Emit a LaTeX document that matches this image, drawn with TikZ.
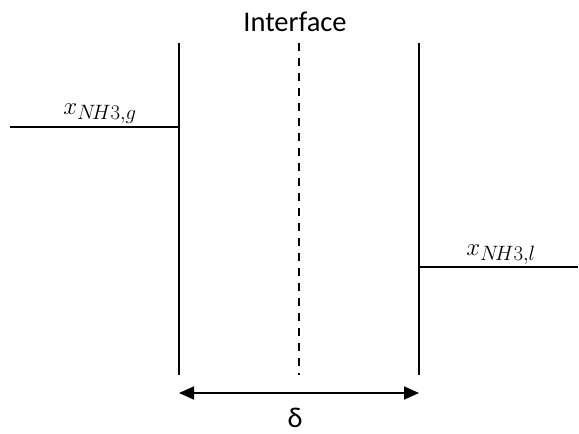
\documentclass[tikz,border=0pt]{standalone}
\usepackage{fontspec}
\setmainfont{Carlito}
\usetikzlibrary{arrows.meta}
\tikzset{
  wall/.style={line width=1.7pt, black},
  iface/.style={line width=1.7pt, black, dash pattern=on 8pt off 7pt},
  conc/.style={line width=1.7pt, black},
  dimarrow/.style={line width=1.7pt, black, {Triangle[length=15pt,width=13pt]}-{Triangle[length=15pt,width=13pt]}},
  lbl/.style={inner sep=0pt, font=\fontsize{28.5}{30}\selectfont},
  mlbl/.style={inner sep=0pt, font=\fontsize{31}{34}\selectfont}
}
\begin{document}
\begin{tikzpicture}[x=1pt,y=-1pt]
\useasboundingbox (0,0) rectangle (579,434);
% wall ends
\coordinate (lt) at (179,43);
\coordinate (lb) at (179,375);
\coordinate (it) at (299,43);
\coordinate (ib) at (299,375);
\coordinate (rt) at (419,43);
\coordinate (rb) at (419,375);
% concentration levels
\coordinate (gl) at (10,127);
\coordinate (gr) at (179,127);
\coordinate (ll) at (419,267);
\coordinate (lr) at (578,267);
% arrow ends
\coordinate (al) at (179,393);
\coordinate (ar) at (419,393);
\draw[wall] (lt) -- (lb);
\draw[wall] (rt) -- (rb);
\draw[iface] (it) -- (ib);
\draw[conc] (gl) -- (gr);
\draw[conc] (ll) -- (lr);
\draw[dimarrow] (al) -- (ar);
\node[lbl, anchor=base] (interface) at (295,31) {Interface};
\node[mlbl, anchor=base] (xg) at (100,114) {$x_{N\!H3,g}$};
\node[mlbl, anchor=base] (xl) at (501,255) {$x_{N\!H3,l}$};
\node[lbl, anchor=base] (delta) at (295,427) {δ};
\end{tikzpicture}
\end{document}
